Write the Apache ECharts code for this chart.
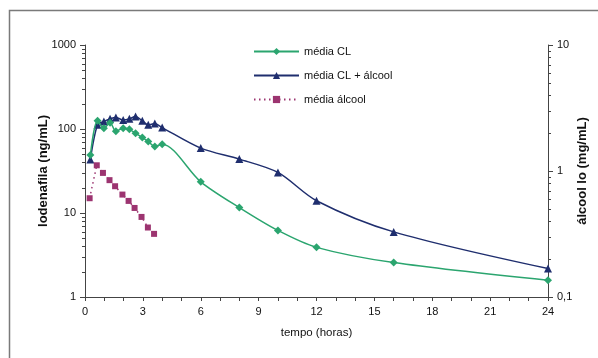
<!DOCTYPE html>
<html>
<head>
<meta charset="utf-8">
<script src="https://cdn.jsdelivr.net/npm/echarts@6/dist/echarts.min.js"></script>
<style>
  html, body { margin: 0; padding: 0; background: #fff; }
  #chart { width: 598px; height: 358px; }
</style>
</head>
<body>
<div id="chart"></div>
<script>
// tempo (horas) for the two lodenafila series
const hours = [0.28, 0.65, 0.98, 1.3, 1.6, 1.98, 2.3, 2.62, 2.97, 3.28, 3.62, 4, 6, 8, 10, 12, 16, 24];
const mediaCL = [49, 125, 102, 119, 94, 102, 99, 89, 79, 71, 62, 66, 23.5, 11.6, 6.2, 3.9, 2.57, 1.58];
const mediaCLAlcool = [43.4, 112, 123, 132, 137, 128, 132, 141, 125, 112, 116, 104, 59.2, 43.8, 30.4, 14, 5.96, 2.18];
// álcool (right axis, mg/mL)
const alcoolHours = [0.24, 0.61, 0.93, 1.27, 1.56, 1.94, 2.26, 2.57, 2.93, 3.26, 3.58];
const mediaAlcool = [0.608, 1.11, 0.966, 0.846, 0.757, 0.65, 0.579, 0.509, 0.432, 0.356, 0.317];

const FONT = "'Liberation Sans', Arial, sans-serif";
const AXIS_COLOR = "#444";
const GREEN = "#2ba56f";
const NAVY = "#1f2e6e";
const PLUM = "#9c3470";

const zip = (xs, ys) => xs.map((x, i) => [x, ys[i]]);

const chart = echarts.init(document.getElementById("chart"));

chart.setOption({
  animation: false,
  backgroundColor: "#fff",
  grid: { left: 85, right: 50, top: 45, bottom: 61 },
  legend: {
    orient: "vertical",
    left: 253,
    top: 46,
    padding: 0,
    itemWidth: 45,
    itemHeight: 9,
    itemGap: 13,
    textStyle: { fontFamily: FONT, fontSize: 11, color: "#111" },
    data: ["média CL", "média CL + álcool", "média álcool"],
  },
  xAxis: {
    type: "value",
    min: 0,
    max: 24,
    interval: 1,
    name: "tempo (horas)",
    nameLocation: "middle",
    nameGap: 30,
    nameMoveOverlap: false,
    nameTextStyle: { fontFamily: FONT, fontSize: 11.5, color: "#111" },
    axisLine: { lineStyle: { color: AXIS_COLOR } },
    axisTick: { length: 4, lineStyle: { color: AXIS_COLOR } },
    axisLabel: {
      fontFamily: FONT,
      fontSize: 11,
      color: "#111",
      margin: 9,
      formatter: (v) => (v % 3 === 0 ? String(v) : ""),
    },
    splitLine: { show: false },
  },
  yAxis: [
    {
      type: "log",
      logBase: 10,
      min: 1,
      max: 1000,
      name: "lodenafila (ng/mL)",
      nameLocation: "middle",
      nameRotate: 90,
      nameGap: 35,
      nameMoveOverlap: false,
      nameTextStyle: { fontFamily: FONT, fontSize: 13, fontWeight: "bold", color: "#111" },
      axisLine: { show: true, lineStyle: { color: AXIS_COLOR } },
      axisTick: { show: true, length: 5, lineStyle: { color: AXIS_COLOR } },
      axisLabel: {
        fontFamily: FONT,
        fontSize: 11,
        color: "#111",
        margin: 9,
        formatter: (v) => String(Math.round(v)),
      },
      splitLine: { show: false },
    },
    {
      type: "log",
      logBase: 10,
      min: 0.1,
      max: 10,
      position: "right",
      name: "álcool lo (mg/mL)",
      nameLocation: "middle",
      nameRotate: 90,
      nameGap: 28,
      nameMoveOverlap: false,
      nameTextStyle: { fontFamily: FONT, fontSize: 13, fontWeight: "bold", color: "#111" },
      axisLine: { show: true, lineStyle: { color: AXIS_COLOR } },
      axisTick: { show: true, length: 5, lineStyle: { color: AXIS_COLOR } },
      axisLabel: {
        fontFamily: FONT,
        fontSize: 11,
        color: "#111",
        margin: 9,
        formatter: (v) => String(+v.toPrecision(3)).replace(".", ","),
      },
      splitLine: { show: false },
    },
  ],
  series: [
    {
      name: "média CL",
      type: "line",
      yAxisIndex: 0,
      data: zip(hours, mediaCL),
      smooth: 0.3,
      symbol: "diamond",
      symbolSize: 8,
      color: GREEN,
      lineStyle: { width: 1.5, color: GREEN },
      itemStyle: { color: GREEN },
      z: 3,
    },
    {
      name: "média CL + álcool",
      type: "line",
      yAxisIndex: 0,
      data: zip(hours, mediaCLAlcool),
      smooth: 0.3,
      symbol: "triangle",
      symbolSize: 8,
      color: NAVY,
      lineStyle: { width: 1.5, color: NAVY },
      itemStyle: { color: NAVY },
      z: 2,
    },
    {
      name: "média álcool",
      type: "line",
      yAxisIndex: 1,
      data: zip(alcoolHours, mediaAlcool),
      symbol: "rect",
      symbolSize: 6,
      color: PLUM,
      lineStyle: { width: 1.5, color: PLUM, type: [1.5, 3.5] },
      itemStyle: { color: PLUM },
      z: 2,
    },
  ],
});

// minor log ticks (2..9 of each decade) placed through the axes' own scales
const minorTicks = [];
const xLeft = chart.convertToPixel({ xAxisIndex: 0 }, 0);
const xRight = chart.convertToPixel({ xAxisIndex: 0 }, 24);
[1, 10, 100].forEach((dec) => {
  for (let m = 2; m <= 9; m++) {
    const y = Math.round(chart.convertToPixel({ yAxisIndex: 0 }, m * dec)) + 0.5;
    minorTicks.push({
      type: "line",
      shape: { x1: xLeft - 3, y1: y, x2: xLeft, y2: y },
      style: { stroke: AXIS_COLOR, lineWidth: 1 },
      silent: true,
    });
  }
});
[0.1, 1].forEach((dec) => {
  for (let m = 2; m <= 9; m++) {
    const y = Math.round(chart.convertToPixel({ yAxisIndex: 1 }, m * dec)) + 0.5;
    minorTicks.push({
      type: "line",
      shape: { x1: xRight, y1: y, x2: xRight + 3, y2: y },
      style: { stroke: AXIS_COLOR, lineWidth: 1 },
      silent: true,
    });
  }
});

chart.setOption({
  graphic: [
    {
      type: "rect",
      shape: { x: 9.5, y: 10.5, width: 700, height: 500 },
      style: { fill: "none", stroke: "#7a7a7a", lineWidth: 1.5 },
      silent: true,
      z: -1,
    },
    ...minorTicks,
  ],
});
</script>
</body>
</html>
